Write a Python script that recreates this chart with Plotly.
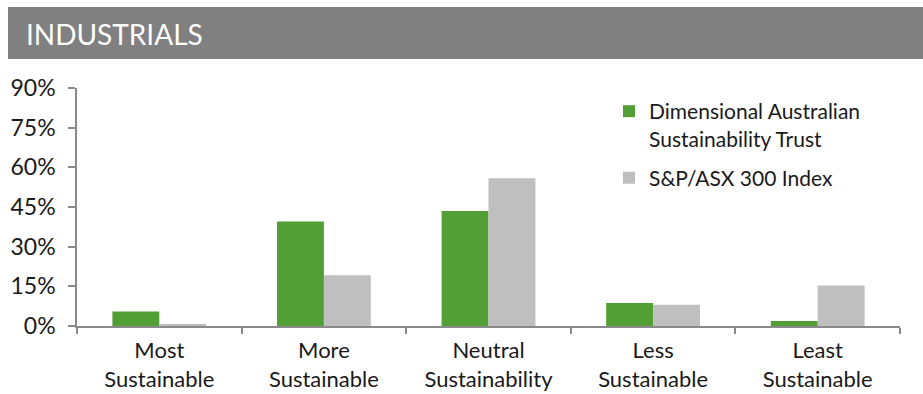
import plotly.graph_objects as go

# Sustainability categories and portfolio weights (%)
categories = ["Most<br>Sustainable", "More<br>Sustainable", "Neutral<br>Sustainability",
              "Less<br>Sustainable", "Least<br>Sustainable"]
trust_weights = [5.5, 39.5, 43.5, 8.7, 1.9]
index_weights = [0.6, 19.2, 55.9, 8.0, 15.3]

series_names = ["Dimensional Australian<br>Sustainability Trust", "S&P/ASX 300 Index"]
series_colors = ["#52A035", "#BFBFBF"]

y_ticks = [0, 15, 30, 45, 60, 75, 90]

FONT = "Lato"
TEXT = "#1a1a1a"
AXIS = "#8a8a8a"

fig = go.Figure()
for name, vals, col, grp in zip(series_names, [trust_weights, index_weights], series_colors, ["a", "b"]):
    fig.add_trace(go.Bar(x=categories, y=vals, name=name, marker=dict(color=col, line=dict(width=0)),
                         legendgroup=grp))

W, H = 923, 394
L, R, T, B = 77, 23, 88, 68
pw, ph = W - L - R, H - T - B

def px_x(x):
    return (x - L) / pw

def px_y(y):
    return (H - B - y) / ph

# Header band with section title
fig.add_shape(type="rect", xref="paper", yref="paper",
              x0=px_x(8), x1=px_x(923), y0=px_y(59), y1=px_y(7),
              fillcolor="#808080", line=dict(width=0), layer="above")
fig.add_annotation(text="INDUSTRIALS", xref="paper", yref="paper",
                   x=px_x(24), y=px_y(34), xanchor="left", yanchor="middle",
                   showarrow=False, font=dict(family=FONT, size=28, color="white"))

fig.update_layout(
    width=W, height=H,
    margin=dict(l=L, r=R, t=T, b=B, autoexpand=False),
    paper_bgcolor="white", plot_bgcolor="white",
    barmode="group", bargap=0.43, bargroupgap=0,
    font=dict(family=FONT, color=TEXT, size=23),
    legend=dict(x=px_x(609), y=px_y(91), xanchor="left", yanchor="top",
                font=dict(family=FONT, size=21, color=TEXT),
                valign="top", tracegroupgap=9, bgcolor="rgba(0,0,0,0)"),
    showlegend=True,
)
fig.update_xaxes(showline=True, linecolor=AXIS, linewidth=1.5, ticks="outside",
                 tickson="boundaries", ticklen=6, tickcolor=AXIS, tickwidth=1.5,
                 showgrid=False, tickfont=dict(family=FONT, size=22, color=TEXT),
                 ticklabelstandoff=4, range=[-0.5, 4.5])
fig.update_yaxes(range=[0, 90], tickvals=y_ticks, ticktext=[f"{v}%" for v in y_ticks],
                 showline=True, linecolor=AXIS, linewidth=1.5, ticks="outside",
                 ticklen=7, tickcolor=AXIS, tickwidth=1.5, showgrid=False, zeroline=False,
                 ticklabelstandoff=8,
                 tickfont=dict(family=FONT, size=23, color=TEXT))

fig.write_html("out.html")
